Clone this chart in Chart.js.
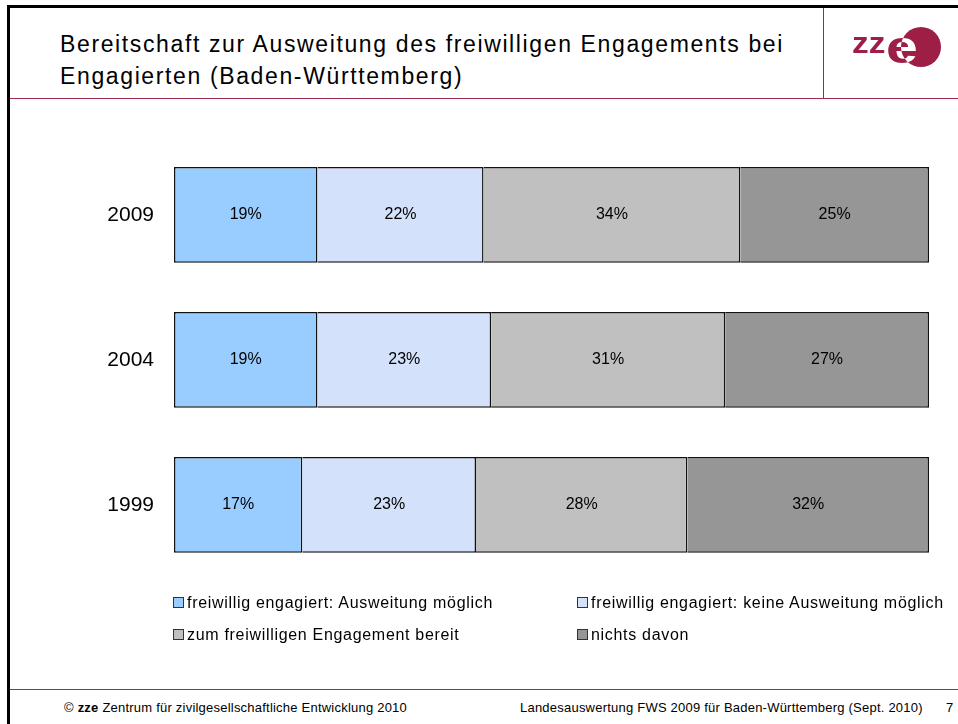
<!DOCTYPE html>
<html>
<head>
<meta charset="utf-8">
<script src="https://cdn.jsdelivr.net/npm/chart.js@4/dist/chart.umd.min.js"></script>
<style>
  html, body { margin:0; padding:0; background:#fff; }
  body { width:958px; height:724px; position:relative; overflow:hidden; font-family:"Liberation Sans", Arial, sans-serif; }
  .abs { position:absolute; white-space:nowrap; }
  #frameTop { left:7px; top:5px; width:951px; height:3px; background:#000; }
  #frameLeft { left:7px; top:5px; width:3px; height:719px; background:#000; }
  #hdrLine { left:10px; top:98px; width:948px; height:1px; background:#9E2A4B; }
  #logoLine { left:823px; top:8px; width:1px; height:90px; background:#9E2A4B; }
  #footLine { left:10px; top:689px; width:948px; height:1px; background:#9E2A4B; }
  .title { left:60px; font-size:23px; line-height:32px; color:#000; }
  #chartWrap { left:0; top:100px; width:958px; height:510px; }
  #legend { left:0; top:590px; width:958px; height:60px; }
  .lg { position:absolute; font-size:16px; white-space:nowrap; color:#000; line-height:18px; }
  .lg span.sw { display:inline-block; width:9px; height:9px; border:1px solid #333; margin-right:3px; vertical-align:0px; letter-spacing:0; }
  .foot { top:700px; font-size:13px; line-height:15px; }
</style>
</head>
<body>
<div id="frameTop" class="abs"></div>
<div id="frameLeft" class="abs"></div>
<div id="hdrLine" class="abs"></div>
<div id="logoLine" class="abs"></div>
<div id="footLine" class="abs"></div>
<div id="title1" class="abs title" style="top:28px">Bereitschaft zur Ausweitung des freiwilligen Engagements bei</div>
<div id="title2" class="abs title" style="top:60px">Engagierten (Baden-Württemberg)</div>
<canvas id="logo" class="abs" style="left:840px;top:20px;" width="110" height="60"></canvas>
<div id="chartWrap" class="abs"><canvas id="c" width="958" height="510"></canvas></div>
<div id="legend" class="abs"></div>
<div id="footL" class="abs foot" style="left:64px">© <b>zze</b> Zentrum für zivilgesellschaftliche Entwicklung 2010</div>
<div id="footR" class="abs foot" style="left:520px">Landesauswertung FWS 2009 für Baden-Württemberg (Sept. 2010)</div>
<div id="footN" class="abs foot" style="left:946px">7</div>
<script>
// ---- data ----
const years = ['2009', '2004', '1999'];
const seriesLabels = [
  'freiwillig engagiert: Ausweitung möglich',
  'freiwillig engagiert: keine Ausweitung möglich',
  'zum freiwilligen Engagement bereit',
  'nichts davon'
];
const ausweitungMoeglich = [19, 19, 17];
const keineAusweitung = [22, 23, 23];
const engagementBereit = [34, 31, 28];
const nichtsDavon = [25, 27, 32];
const seriesColors = ['#99CCFF', '#D3E2FA', '#C0C0C0', '#969696'];

// ---- text width fitting (reference renders text slightly wider) ----
function fitSpacing(el, target) {
  el.style.letterSpacing = '0px';
  const w = el.getBoundingClientRect().width;
  const n = el.textContent.length;
  const ls = (target - w) / n;
  el.style.letterSpacing = ls + 'px';
  return ls;
}

// ---- logo ----
(function(){
  const lc = document.getElementById('logo').getContext('2d');
  const red = '#9E1F45';
  lc.fillStyle = red;
  lc.save();
  lc.font = 'bold 29px "Liberation Sans", Arial, sans-serif';
  lc.translate(12, 33);
  lc.scale(1.15, 1);
  lc.fillText('zz', 0, 0);
  lc.restore();
  lc.save();
  lc.font = 'bold 44px "Liberation Sans", Arial, sans-serif';
  lc.translate(46, 43);
  lc.scale(1.3, 1.05);
  lc.fillText('e', 0, 0);
  lc.restore();
  lc.globalCompositeOperation = 'xor';
  lc.beginPath();
  lc.arc(81, 27, 20, 0, Math.PI * 2);
  lc.fill();
  lc.globalCompositeOperation = 'source-over';
})();

// ---- chart ----
const seriesData = [ausweitungMoeglich, keineAusweitung, engagementBereit, nichtsDavon];
const datasets = seriesData.map((d, i) => ({
  label: seriesLabels[i],
  data: d,
  backgroundColor: seriesColors[i],
  borderColor: '#111',
  borderWidth: i === 0 ? {top:1.5, bottom:1.5, left:1.5, right:1.5} : {top:1.5, bottom:1.5, left:0, right:1.5},
  borderSkipped: false,
  barPercentage: 0.661,
  categoryPercentage: 1
}));

const labelPlugin = {
  id: 'segLabels',
  afterDatasetsDraw(chart) {
    const ctx = chart.ctx;
    ctx.save();
    ctx.font = '16px "Liberation Sans", Arial, sans-serif';
    ctx.fillStyle = '#000';
    ctx.textAlign = 'center';
    ctx.textBaseline = 'middle';
    chart.data.datasets.forEach((ds, di) => {
      const meta = chart.getDatasetMeta(di);
      meta.data.forEach((el, i) => {
        const x = (el.x + el.base) / 2;
        ctx.fillText(ds.data[i] + '%', x, el.y);
      });
    });
    ctx.restore();
  }
};

new Chart(document.getElementById('c'), {
  type: 'bar',
  data: { labels: years, datasets },
  options: {
    indexAxis: 'y',
    responsive: false,
    animation: false,
    layout: { padding: { top: 42.4, bottom: 0, left: 0, right: 29 } },
    plugins: { legend: { display: false }, tooltip: { enabled: false } },
    scales: {
      x: { stacked: true, min: 0, max: 100, display: false },
      y: {
        stacked: true,
        grid: { display: false, drawTicks: false },
        border: { display: false },
        ticks: { color: '#000', font: { size: 21, family: '"Liberation Sans", Arial, sans-serif' }, padding: 20 },
        afterFit(scale) { scale.width = 174; }
      }
    }
  },
  plugins: [labelPlugin]
});

// ---- legend (built from series arrays) ----
const legendPos = [[173, 3.5], [577, 3.5], [173, 35.5], [577, 35.5]];
const lg = document.getElementById('legend');
const lgTexts = [];
seriesLabels.forEach((lab, i) => {
  const d = document.createElement('div');
  d.className = 'lg';
  d.style.left = legendPos[i][0] + 'px';
  d.style.top = legendPos[i][1] + 'px';
  const sw = document.createElement('span');
  sw.className = 'sw';
  sw.style.background = seriesColors[i];
  const t = document.createElement('span');
  t.textContent = lab;
  d.appendChild(sw);
  d.appendChild(t);
  lg.appendChild(d);
  lgTexts.push(t);
});

// fit widths to the reference
const lsTitle = fitSpacing(document.getElementById('title1'), 724);
document.getElementById('title2').style.letterSpacing = lsTitle + 'px';
const lsLeg = fitSpacing(lgTexts[0], 306);
lgTexts.forEach(t => t.style.letterSpacing = lsLeg + 'px');
const lsFoot = fitSpacing(document.getElementById('footL'), 343);
document.getElementById('footR').style.letterSpacing = lsFoot + 'px';
</script>
</body>
</html>
